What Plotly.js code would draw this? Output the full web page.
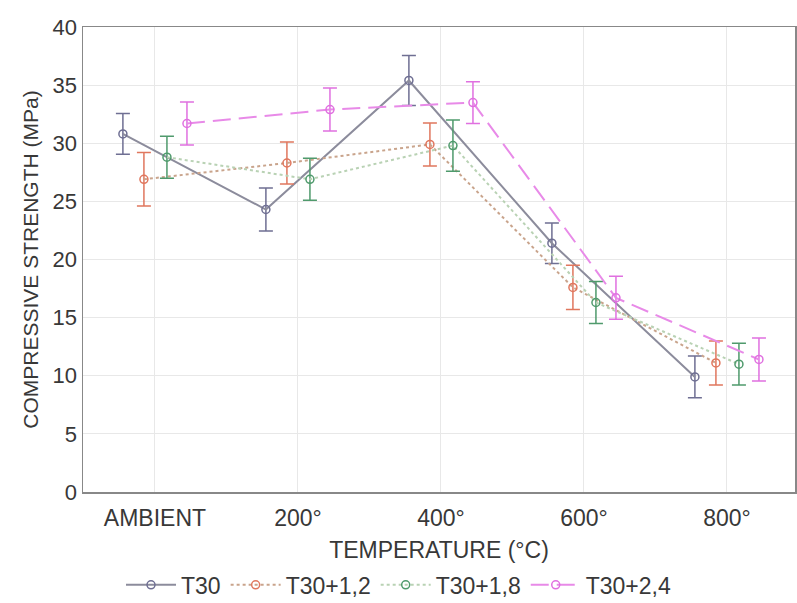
<!DOCTYPE html>
<html>
<head>
<meta charset="utf-8">
<script src="https://cdn.plot.ly/plotly-3.0.1.min.js"></script>
<style>html,body{margin:0;padding:0;background:#fff;}#chart{width:797px;height:603px;}</style>
</head>
<body>
<div id="chart"></div>
<script>
const categories = ["AMBIENT", "200°", "400°", "600°", "800°"];
const seriesNames = ["T30", "T30+1,2", "T30+1,8", "T30+2,4"];
const t30 = [30.8, 24.3, 35.4, 21.4, 9.9];
const t30Err = [1.75, 1.85, 2.15, 1.75, 1.8];
const t30_12 = [26.9, 28.3, 29.9, 17.6, 11.1];
const t30_12Err = [2.3, 1.8, 1.85, 1.9, 1.9];
const t30_18 = [28.8, 26.9, 29.8, 16.3, 11.0];
const t30_18Err = [1.8, 1.8, 2.2, 1.8, 1.8];
const t30_24 = [31.7, 32.9, 33.5, 16.7, 11.4];
const t30_24Err = [1.85, 1.85, 1.8, 1.85, 1.85];

const values = [t30, t30_12, t30_18, t30_24];
const errors = [t30Err, t30_12Err, t30_18Err, t30_24Err];
const offsets = [-0.224, -0.077, 0.084, 0.224];
const markerColors = ["#6f6f93", "#e0775e", "#4f9a6c", "#e070e0"];
const lineColors = ["#8c8c9c", "#c9a48c", "#b9d2b4", "#e88ae8"];
const dashes = ["solid", "dot", "dot", "18px,8px"];

const traces = values.map((v, i) => ({
  type: "scatter",
  mode: "lines+markers",
  name: seriesNames[i],
  x: categories.map((c, j) => j + offsets[i]),
  y: v,
  line: {color: lineColors[i], dash: dashes[i], width: 2},
  marker: {symbol: "circle-open", size: 8, color: markerColors[i], line: {width: 1.5, color: markerColors[i]}},
  error_y: {type: "data", array: errors[i], visible: true, color: markerColors[i], thickness: 1.5, width: 7}
}));

const layout = {
  width: 797, height: 603,
  margin: {l: 83, r: 2, t: 27, b: 111},
  paper_bgcolor: "#fff", plot_bgcolor: "#fff",
  font: {family: "Liberation Sans, Arial, sans-serif", color: "#383838"},
  showlegend: true,
  legend: {orientation: "h", xref: "container", x: 0.5, xanchor: "center", yref: "container", y: 0.03, yanchor: "middle",
           font: {size: 23, color: "#383838"}, itemwidth: 50, tracegroupgap: 0},
  xaxis: {
    automargin: false,
    range: [-0.503, 4.476],
    tickvals: categories.map((c, j) => j),
    ticktext: categories,
    showgrid: true, gridcolor: "#e8e8e8", zeroline: false,
    showline: true, linecolor: "#888", linewidth: 1.5, mirror: true,
    ticks: "", ticklabelstandoff: 5, tickfont: {size: 23, color: "#383838"},
    title: {text: "TEMPERATURE (°C)", font: {size: 23, color: "#383838"}, standoff: 12}
  },
  yaxis: {
    automargin: false,
    range: [0, 40], dtick: 5,
    showgrid: true, gridcolor: "#e8e8e8", zeroline: false,
    showline: true, linecolor: "#888", linewidth: 1.5, mirror: true,
    ticks: "", tickfont: {size: 22, color: "#383838"},
    title: {text: "COMPRESSIVE STRENGTH (MPa)", font: {size: 21, color: "#383838"}, standoff: 8}
  }
};

Plotly.newPlot("chart", traces, layout, {displayModeBar: false, staticPlot: true});
</script>
</body>
</html>
